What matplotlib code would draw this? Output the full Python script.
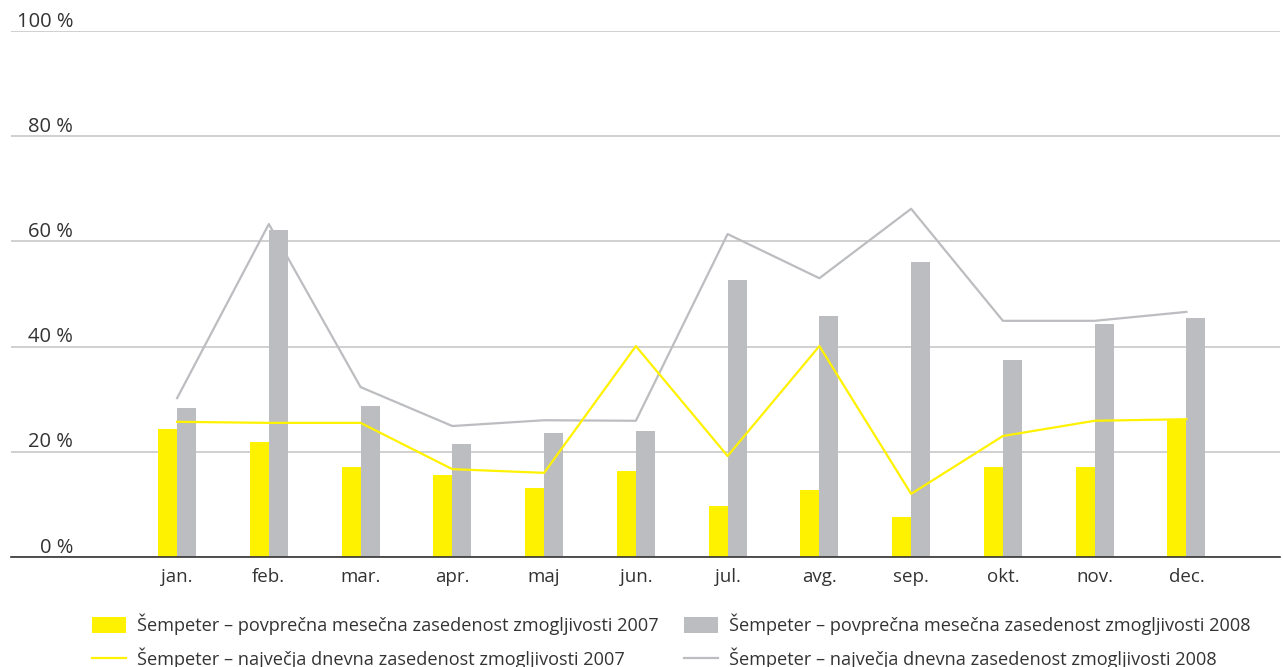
import matplotlib
matplotlib.use("Agg")
import numpy as np
import matplotlib.pyplot as plt
from matplotlib.patches import Patch
from matplotlib.lines import Line2D

months = ["jan.", "feb.", "mar.", "apr.", "maj", "jun.",
          "jul.", "avg.", "sep.", "okt.", "nov.", "dec."]
avg_2007 = [24.3, 21.9, 17.1, 15.6, 13.1, 16.3, 9.7, 12.7, 7.6, 17.1, 17.1, 26.0]
avg_2008 = [28.3, 62.2, 28.7, 21.5, 23.6, 24.0, 52.7, 45.8, 56.1, 37.5, 44.3, 45.4]
max_2007 = [25.7, 25.5, 25.5, 16.7, 16.0, 40.1, 19.2, 40.1, 12.0, 23.0, 25.9, 26.2]
max_2008 = [30.2, 63.3, 32.3, 24.9, 26.0, 25.9, 61.4, 53.0, 66.2, 44.9, 44.9, 46.6]
yticks = [0, 20, 40, 60, 80, 100]
labels = [
    "Šempeter – povprečna mesečna zasedenost zmogljivosti 2007",
    "Šempeter – največja dnevna zasedenost zmogljivosti 2007",
    "Šempeter – povprečna mesečna zasedenost zmogljivosti 2008",
    "Šempeter – največja dnevna zasedenost zmogljivosti 2008",
]

YELLOW = "#fff200"
GREY = "#bcbdc0"
TEXT = "#333333"


def main():
    plt.rcParams["font.family"] = ["Open Sans", "DejaVu Sans"]
    fig = plt.figure(figsize=(12.83, 6.67), dpi=100)
    ax = fig.add_axes([11 / 1283, 1 - 557 / 667, 1269 / 1283, 526 / 667])

    x = np.arange(len(months))
    w = 0.207
    ax.bar(x - w / 2, avg_2007, w, color=YELLOW, zorder=2)
    ax.bar(x + w / 2, avg_2008, w, color=GREY, zorder=2)
    ax.plot(x, max_2008, color=GREY, lw=1.6, zorder=3)
    ax.plot(x, max_2007, color=YELLOW, lw=1.6, zorder=4)

    ax.set_xlim(-1.81, 12.02)
    ax.set_ylim(0, 100)

    for s in ["top", "right", "left"]:
        ax.spines[s].set_visible(False)
    ax.spines["bottom"].set_color(TEXT)
    ax.spines["bottom"].set_linewidth(1.2)
    ax.spines["bottom"].set_zorder(5)

    ax.set_yticks(yticks)
    ax.set_yticklabels([])
    ax.tick_params(axis="y", length=0)
    ax.grid(axis="y", color="#c8c8c8", lw=1.2, zorder=0)
    for t in yticks:
        ax.text(0.049, t - 0.1, f"{t} %", transform=ax.get_yaxis_transform(),
                ha="right", va="bottom", fontsize=14.5, color=TEXT)

    ax.set_xticks(x)
    ax.set_xticklabels(months, fontsize=13.5, color=TEXT)
    ax.tick_params(axis="x", length=0, pad=8)

    handles = [
        Patch(facecolor=YELLOW),
        Line2D([], [], color=YELLOW, lw=1.6),
        Patch(facecolor=GREY),
        Line2D([], [], color=GREY, lw=1.6),
    ]
    fig.legend(handles, labels, ncol=2, loc="lower left",
               bbox_to_anchor=(83 / 1283, -0.016), frameon=False,
               fontsize=13.1, labelcolor=TEXT, handlelength=1.87,
               handleheight=0.95, handletextpad=0.6, columnspacing=1.37,
               labelspacing=0.65, borderaxespad=0.1)

    fig.savefig("out.png", dpi=100)


if __name__ == "__main__":
    main()
